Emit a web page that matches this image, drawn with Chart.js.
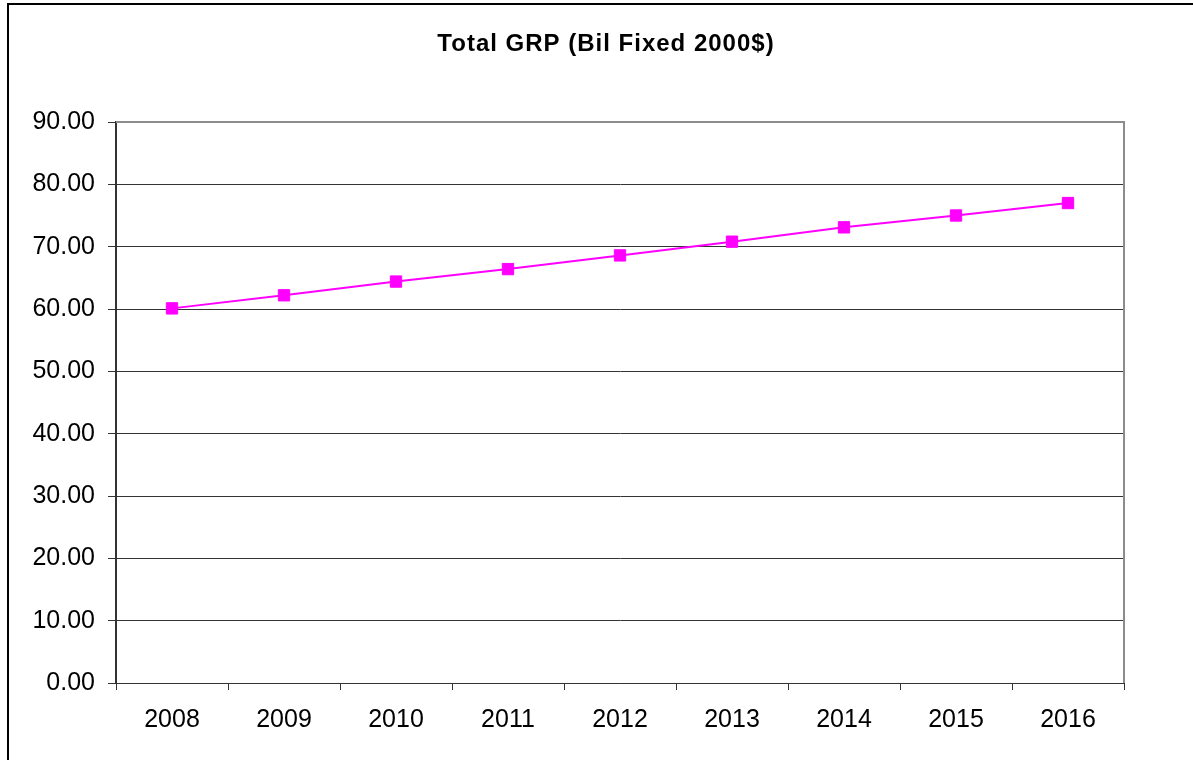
<!DOCTYPE html>
<html>
<head>
<meta charset="utf-8">
<script src="https://cdn.jsdelivr.net/npm/chart.js@4/dist/chart.umd.min.js"></script>
<style>
  html, body { margin: 0; padding: 0; background: #fff; }
  canvas { display: block; }
</style>
</head>
<body>
<canvas id="grp" width="1193" height="760"></canvas>
<script>
const years = ['2008', '2009', '2010', '2011', '2012', '2013', '2014', '2015', '2016'];
const grpValues = [60.1, 62.2, 64.4, 66.4, 68.6, 70.8, 73.1, 75.0, 77.0];
const chartTitle = 'Total GRP (Bil Fixed 2000$)';
const yMin = 0;
const yMax = 90;
const yStep = 10;

const FONT = '"Liberation Sans", Arial, sans-serif';

// white page, outer black frame and the bold spaced-out heading
const framePlugin = {
  id: 'frameAndTitle',
  beforeDraw(chart) {
    const ctx = chart.ctx;
    ctx.save();
    ctx.fillStyle = '#fff';
    ctx.fillRect(0, 0, chart.width, chart.height);
    ctx.strokeStyle = '#000';
    ctx.lineWidth = 2;
    ctx.strokeRect(8, 4, chart.width + 40, chart.height + 40);
    ctx.restore();
  },
  afterDraw(chart) {
    const ctx = chart.ctx;
    const area = chart.chartArea;
    ctx.save();
    // plot area frame: grey top and right edges
    ctx.strokeStyle = '#8c8c8c';
    ctx.lineWidth = 2;
    ctx.beginPath();
    ctx.moveTo(area.left, area.top);
    ctx.lineTo(area.right, area.top);
    ctx.lineTo(area.right, area.bottom);
    ctx.stroke();

    ctx.fillStyle = '#000';
    ctx.font = 'bold 24px ' + FONT;
    if ('letterSpacing' in ctx) ctx.letterSpacing = '1px';
    ctx.textAlign = 'center';
    ctx.textBaseline = 'alphabetic';
    ctx.fillText(chartTitle, 606, 51);
    ctx.restore();
  }
};

new Chart(document.getElementById('grp'), {
  type: 'line',
  data: {
    labels: years,
    datasets: [{
      data: grpValues,
      borderColor: '#ff00ff',
      backgroundColor: '#ff00ff',
      borderWidth: 2,
      pointStyle: 'rect',
      pointRadius: 8,
      pointBorderWidth: 1,
      pointBackgroundColor: '#ff00ff',
      pointBorderColor: '#ff00ff',
      tension: 0,
      fill: false,
    }]
  },
  options: {
    responsive: false,
    animation: false,
    layout: { padding: { top: 122, right: 69, left: 0, bottom: 0 } },
    plugins: {
      legend: { display: false },
      title: { display: false },
      tooltip: { enabled: false },
    },
    scales: {
      x: {
        offset: true,
        grid: {
          offset: true,
          drawOnChartArea: false,
          drawTicks: true,
          tickLength: 7,
          tickColor: '#333',
          tickWidth: 1,
        },
        border: { display: true, color: '#333', width: 1 },
        ticks: {
          color: '#000',
          padding: 15,
          maxRotation: 0,
          font: { family: FONT, size: 25 },
        },
        afterFit(scale) { scale.height = 77; }
      },
      y: {
        min: yMin,
        max: yMax,
        grid: {
          color: ctx => ctx.tick && ctx.tick.value === yMax ? 'rgba(0,0,0,0)' : '#333',
          lineWidth: 1,
          drawTicks: true,
          tickLength: 8,
          tickColor: '#333',
        },
        border: { display: true, color: '#333', width: 2 },
        ticks: {
          stepSize: yStep,
          color: '#000',
          padding: 13,
          font: { family: FONT, size: 25 },
          callback: v => Number(v).toFixed(2),
        },
        afterFit(scale) { scale.width = 116; }
      }
    }
  },
  plugins: [framePlugin]
});
</script>
</body>
</html>
